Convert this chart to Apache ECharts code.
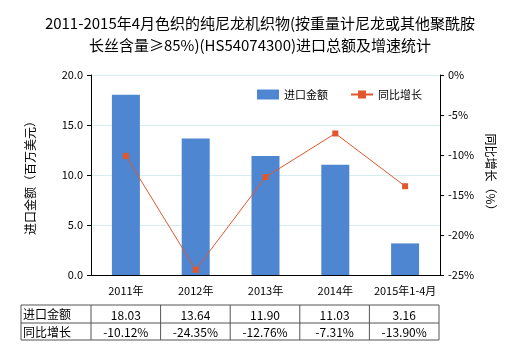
<!DOCTYPE html>
<html><head><meta charset="utf-8">
<script src="https://cdn.jsdelivr.net/npm/echarts@6/dist/echarts.min.js"></script>
<style>html,body{margin:0;padding:0;background:#fff}#c{width:520px;height:350px}</style>
</head><body><div id="c"></div>
<script>
var categories = ['2011年','2012年','2013年','2014年','2015年1-4月'];
var importValues = [18.03, 13.64, 11.90, 11.03, 3.16];
var growthValues = [-10.12, -24.35, -12.76, -7.31, -13.90];
var rowNames = ['进口金额', '同比增长'];

var FONT = '"Noto Sans CJK SC", sans-serif';
var chart = echarts.init(document.getElementById('c'), null, {renderer:'canvas'});

var gridL = 91, gridR = 80, gridT = 75, gridB = 75;
var tblX0 = 21, tblX1 = 91, tblX2 = 439, tblY0 = 305, tblY1 = 323, tblY2 = 340;
var colW = (tblX2 - tblX1) / categories.length;
var graphics = [];
function line(x1,y1,x2,y2){graphics.push({type:'line',shape:{x1:x1,y1:y1,x2:x2,y2:y2},style:{stroke:'#555',lineWidth:1}});}
line(tblX0,tblY0,tblX2,tblY0); line(tblX0,tblY1,tblX2,tblY1); line(tblX0,tblY2,tblX2,tblY2);
line(tblX0,tblY0,tblX0,tblY2);
for (var i=0;i<=categories.length;i++){ line(tblX1+i*colW,tblY0,tblX1+i*colW,tblY2); }
rowNames.forEach(function(n,r){
  graphics.push({type:'text',x:tblX0+2,y:(r===0?tblY0:tblY1)+9,style:{text:n,font:'12px '+FONT,fill:'#000',textVerticalAlign:'middle'}});
});
categories.forEach(function(c,i){
  var cx = tblX1 + (i+0.5)*colW;
  graphics.push({type:'text',x:cx,y:tblY0+10,style:{text:importValues[i].toFixed(2),font:'12px '+FONT,fill:'#000',textAlign:'center',textVerticalAlign:'middle'}});
  graphics.push({type:'text',x:cx,y:tblY1+9,style:{text:growthValues[i].toFixed(2)+'%',font:'12px '+FONT,fill:'#000',textAlign:'center',textVerticalAlign:'middle'}});
});

chart.setOption({
  animation:false,
  title:{text:'2011-2015年4月色织的纯尼龙机织物(按重量计尼龙或其他聚酰胺\n长丝含量≥85%)(HS54074300)进口总额及增速统计',left:'center',top:7,
    textStyle:{fontFamily:FONT,fontSize:15,fontWeight:'normal',color:'#000',lineHeight:22}},
  legend:{top:84,left:252,itemWidth:22,itemHeight:10,itemGap:22,textStyle:{fontFamily:FONT,fontSize:11,color:'#000'},
    data:[{name:'进口金额',icon:'rect'},{name:'同比增长'}]},
  grid:{left:gridL,right:gridR,top:gridT,bottom:gridB},
  xAxis:{type:'category',data:categories,axisTick:{show:false},
    axisLine:{lineStyle:{color:'#000'}},
    axisLabel:{fontFamily:FONT,fontSize:11,color:'#000',margin:10,interval:0}},
  yAxis:[
    {type:'value',min:0,max:20,interval:5,name:'进口金额（百万美元）',nameLocation:'middle',nameGap:55,nameRotate:90,
     nameTextStyle:{fontFamily:FONT,fontSize:12,color:'#000'},
     axisLine:{show:true,lineStyle:{color:'#000'}},axisTick:{show:true,length:4,lineStyle:{color:'#000'}},
     axisLabel:{fontFamily:FONT,fontSize:11,color:'#000',formatter:function(v){return v.toFixed(1);}},
     splitLine:{show:true,lineStyle:{color:'#d6eef0'}}},
    {type:'value',min:-25,max:0,interval:5,name:'同比增长（%）',nameLocation:'middle',nameGap:45,nameRotate:-90,
     nameTextStyle:{fontFamily:FONT,fontSize:12,color:'#000'},
     axisLine:{show:true,lineStyle:{color:'#000'}},axisTick:{show:true,length:4,lineStyle:{color:'#000'}},
     axisLabel:{fontFamily:FONT,fontSize:11,color:'#000',formatter:'{value}%'},
     splitLine:{show:false}}
  ],
  series:[
    {name:'进口金额',type:'bar',data:importValues,barWidth:28,itemStyle:{color:'#4f86d2'}},
    {name:'同比增长',type:'line',yAxisIndex:1,data:growthValues,symbol:'rect',symbolSize:6,
     lineStyle:{color:'#e2572b',width:1},itemStyle:{color:'#e2572b'}}
  ],
  graphic:graphics
});
</script></body></html>
